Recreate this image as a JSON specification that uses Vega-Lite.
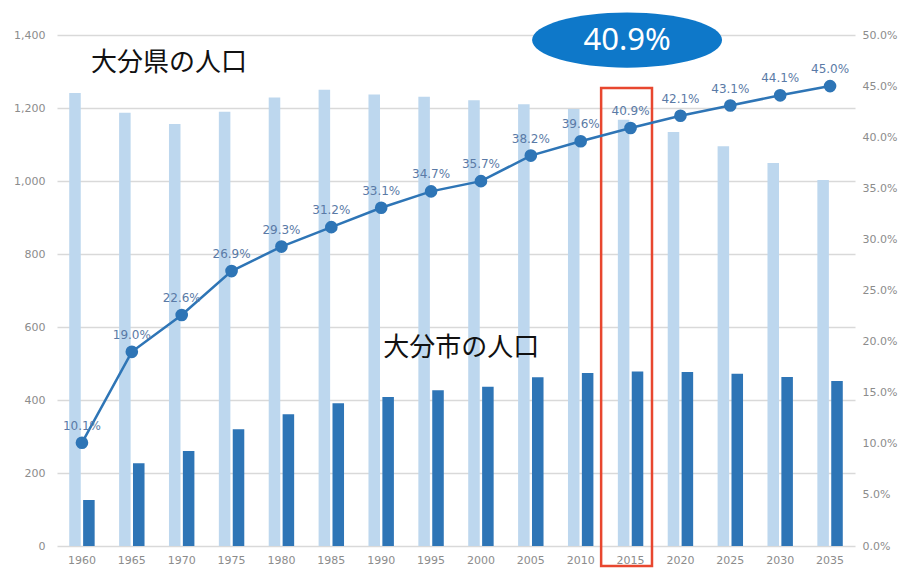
{
  "$schema": "https://vega.github.io/schema/vega-lite/v6.json",
  "width": 798,
  "height": 511,
  "autosize": {"type": "none"},
  "padding": {"left": 57, "top": 35, "right": 50, "bottom": 25},
  "background": "white",
  "config": {
    "view": {"stroke": null},
    "font": "DejaVu Sans",
    "axis": {"labelFont": "DejaVu Sans", "labelFontSize": 11, "labelColor": "#8c8c8c", "ticks": false, "title": null}
  },
  "data": {
    "values": [
      {"year": "1960", "pref": 1241, "city": 126, "share": 0.101},
      {"year": "1965", "pref": 1187, "city": 227, "share": 0.190},
      {"year": "1970", "pref": 1156, "city": 260, "share": 0.226},
      {"year": "1975", "pref": 1190, "city": 320, "share": 0.269},
      {"year": "1980", "pref": 1229, "city": 361, "share": 0.293},
      {"year": "1985", "pref": 1250, "city": 391, "share": 0.312},
      {"year": "1990", "pref": 1237, "city": 408, "share": 0.331},
      {"year": "1995", "pref": 1231, "city": 427, "share": 0.347},
      {"year": "2000", "pref": 1221, "city": 436, "share": 0.357},
      {"year": "2005", "pref": 1210, "city": 462, "share": 0.382},
      {"year": "2010", "pref": 1197, "city": 474, "share": 0.396},
      {"year": "2015", "pref": 1168, "city": 478, "share": 0.409},
      {"year": "2020", "pref": 1134, "city": 477, "share": 0.421},
      {"year": "2025", "pref": 1095, "city": 472, "share": 0.431},
      {"year": "2030", "pref": 1049, "city": 463, "share": 0.441},
      {"year": "2035", "pref": 1003, "city": 452, "share": 0.450}
    ]
  },
  "encoding": {
    "x": {
      "field": "year",
      "type": "ordinal",
      "scale": {"paddingInner": 0.49, "paddingOuter": 0.245},
      "axis": {"labelAngle": 0, "labelPadding": 8, "domain": false, "grid": false}
    }
  },
  "layer": [
    {
      "layer": [
        {
          "transform": [{"fold": ["pref", "city"], "as": ["series", "pop"]}],
          "mark": {"type": "bar"},
          "encoding": {
            "xOffset": {"field": "series", "type": "nominal", "sort": ["pref", "city"], "scale": {"paddingInner": 0.17}},
            "y": {
              "field": "pop", "type": "quantitative",
              "scale": {"domain": [0, 1400], "nice": false},
              "axis": {"orient": "left", "values": [0, 200, 400, 600, 800, 1000, 1200, 1400], "format": ",d", "labelPadding": 12, "domain": false, "grid": true, "gridColor": "#d9d9d9", "gridWidth": 1.3}
            },
            "color": {"field": "series", "type": "nominal", "scale": {"domain": ["pref", "city"], "range": ["#bdd7ee", "#2e75b6"]}, "legend": null}
          }
        },
        {
          "data": {"values": [{"year": "2015", "top": 1255, "bottom": -55}]},
          "mark": {"type": "rect", "fill": null, "stroke": "#e8472f", "strokeWidth": 2.5, "width": {"band": 2.0}, "xOffset": -4},
          "encoding": {
            "y": {"field": "top", "type": "quantitative"},
            "y2": {"field": "bottom"}
          }
        },
        {
          "data": {"values": [{"year": "2015", "v": 1386, "label": "40.9%"}]},
          "layer": [
            {
              "mark": {"type": "point", "filled": true, "opacity": 1, "color": "#0e78c9", "size": 36100, "shape": "M -1 0 A 1 0.29 0 1 1 1 0 A 1 0.29 0 1 1 -1 0 Z", "xOffset": -3.5},
              "encoding": {"y": {"field": "v", "type": "quantitative"}}
            },
            {
              "mark": {"type": "text", "color": "white", "font": "Noto Sans", "fontSize": 31, "baseline": "middle", "align": "center", "dx": -3.5, "dy": 1},
              "encoding": {"y": {"field": "v", "type": "quantitative"}, "text": {"field": "label"}}
            }
          ]
        },
        {
          "data": {"values": [{"year": "1970", "v": 1323, "label": "大分県の人口"}]},
          "mark": {"type": "text", "color": "#111111", "font": "Noto Sans CJK JP", "fontSize": 26, "baseline": "middle", "align": "center"},
          "encoding": {
            "y": {"field": "v", "type": "quantitative"},
            "text": {"field": "label"},
            "xOffset": {"value": 0}
          }
        },
        {
          "data": {"values": [{"year": "2000", "v": 542, "label": "大分市の人口"}]},
          "mark": {"type": "text", "color": "#111111", "font": "Noto Sans CJK JP", "fontSize": 26, "baseline": "middle", "align": "center", "dx": -7},
          "encoding": {
            "y": {"field": "v", "type": "quantitative"},
            "text": {"field": "label"},
            "xOffset": {"value": 0}
          }
        }
      ]
    },
    {
      "layer": [
        {
          "mark": {"type": "line", "color": "#2e75b6", "strokeWidth": 2.5},
          "encoding": {
            "y": {
              "field": "share", "type": "quantitative",
              "scale": {"domain": [0, 0.5], "nice": false},
              "axis": {"orient": "right", "values": [0, 0.05, 0.1, 0.15, 0.2, 0.25, 0.3, 0.35, 0.4, 0.45, 0.5], "format": ".1%", "labelPadding": 7, "domain": false, "grid": false}
            }
          }
        },
        {
          "mark": {"type": "point", "filled": true, "opacity": 1, "color": "#2e75b6", "size": 160},
          "encoding": {"y": {"field": "share", "type": "quantitative"}}
        },
        {
          "mark": {"type": "text", "color": "#5a7aa6", "fontSize": 12, "dy": -17, "baseline": "middle"},
          "encoding": {"y": {"field": "share", "type": "quantitative"}, "text": {"field": "share", "format": ".1%"}}
        }
      ]
    }
  ],
  "resolve": {"scale": {"y": "independent"}}
}
